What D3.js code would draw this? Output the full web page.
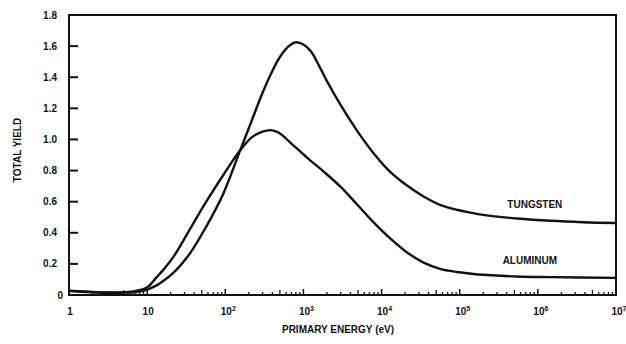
<!DOCTYPE html>
<html><head><meta charset="utf-8">
<script src="https://cdn.jsdelivr.net/npm/d3@7"></script>
<style>body{margin:0;background:#fff}svg{display:block}text{font-family:"Liberation Sans",Arial,sans-serif;font-weight:bold;fill:#111}</style>
</head><body><svg id="c" width="626" height="344"></svg>
<script>
const tungstenE = [1,2,3,5,8,10,13,16,22,35,57,94,155,210,300,400,500,650,800,1000,1250,1600,2000,3000,4800,7800,13000,21000,34000,56000,91000,135000,200000,540000,1.45e6,3.8e6,1e7];
const tungstenY = [0.025,0.018,0.014,0.014,0.022,0.035,0.06,0.09,0.145,0.265,0.44,0.65,0.93,1.10,1.30,1.44,1.53,1.60,1.625,1.61,1.565,1.47,1.375,1.22,1.06,0.915,0.79,0.705,0.635,0.58,0.548,0.53,0.515,0.492,0.477,0.468,0.463];
const aluminumE = [1,2,3,5,7,10,13,16,22,35,57,94,155,220,300,380,480,680,1100,1800,3000,4800,7800,13000,21000,34000,56000,91000,135000,200000,540000,1.45e6,1e7];
const aluminumY = [0.028,0.02,0.016,0.018,0.025,0.05,0.11,0.16,0.25,0.42,0.6,0.77,0.93,1.015,1.05,1.06,1.045,0.98,0.885,0.795,0.695,0.585,0.47,0.362,0.275,0.21,0.168,0.148,0.138,0.13,0.119,0.115,0.11];
const yTicks = [0,0.2,0.4,0.6,0.8,1.0,1.2,1.4,1.6,1.8];
const yTickLabels = ["0","0.2","0.4","0.6","0.8","1.0","1.2","1.4","1.6","1.8"];
const xDecades = [1,10,100,1000,1e4,1e5,1e6,1e7];
const xDecadeBase = ["1","10","10","10","10","10","10","10"];
const xDecadeExp = ["","","2","3","4","5","6","7"];
const seriesNames = ["TUNGSTEN","ALUMINUM"];

const L=69,R=616,T=15,B=295;
const svg=d3.select("#c");
const x=d3.scaleLog().domain([1,1e7]).range([L,R]);
const y=d3.scaleLinear().domain([0,1.8]).range([B,T]);

// frame
svg.append("rect").attr("x",L).attr("y",T).attr("width",R-L).attr("height",B-T)
  .attr("fill","none").attr("stroke","#111").attr("stroke-width",2);

// y ticks
const yg=svg.append("g");
yTicks.forEach((v,i)=>{
  if(v>0 && v<1.8) yg.append("line").attr("x1",L).attr("x2",L+9).attr("y1",y(v)).attr("y2",y(v)).attr("stroke","#111").attr("stroke-width",2);
  yg.append("text").attr("x",v===0?63:57).attr("y",y(v)+3.5).attr("text-anchor","end").attr("font-size",10).text(yTickLabels[i]);
});

// x ticks (minor inside, pointing up)
const xg=svg.append("g");
for(let d=1; d<1e7; d*=10){
  for(let k=2;k<=9;k++){
    const v=d*k;
    xg.append("line").attr("x1",x(v)).attr("x2",x(v)).attr("y1",B).attr("y2",B-(k===5?5:3)).attr("stroke","#111").attr("stroke-width",1.3);
  }
}
xDecades.forEach((v,i)=>{
  if(i>0 && i<xDecades.length-1) xg.append("line").attr("x1",x(v)).attr("x2",x(v)).attr("y1",B).attr("y2",B-6).attr("stroke","#111").attr("stroke-width",1.5);
  const t=xg.append("text").attr("x",x(v)+(xDecadeExp[i]?3:1)).attr("y",315).attr("text-anchor","middle").attr("font-size",10);
  t.append("tspan").text(xDecadeBase[i]);
  if(xDecadeExp[i]) t.append("tspan").attr("font-size",7).attr("dy",-4).text(xDecadeExp[i]);
});

// curves
const line=d3.line().x(d=>x(d[0])).y(d=>y(d[1])).curve(d3.curveCatmullRom.alpha(0.5));
const tData=tungstenE.map((e,i)=>[e,tungstenY[i]]);
const aData=aluminumE.map((e,i)=>[e,aluminumY[i]]);
[tData,aData].forEach(dat=>{
  svg.append("path").datum(dat).attr("d",line).attr("fill","none").attr("stroke","#111").attr("stroke-width",2.4).attr("stroke-linejoin","round");
});

// labels
svg.append("text").attr("x",x(1e6)-3).attr("y",y(0.56)).attr("text-anchor","middle").attr("font-size",10).text(seriesNames[0]);
svg.append("text").attr("x",x(1e6)-8).attr("y",y(0.2)).attr("text-anchor","middle").attr("font-size",10).text(seriesNames[1]);

// axis titles
svg.append("text").attr("x",338).attr("y",333).attr("text-anchor","middle").attr("font-size",10).text("PRIMARY ENERGY (eV)");
svg.append("text").attr("transform","translate(21,150) rotate(-90)").attr("text-anchor","middle").attr("font-size",10).text("TOTAL YIELD");
</script></body></html>
